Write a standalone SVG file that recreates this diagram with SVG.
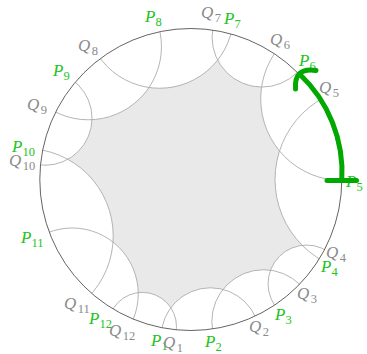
<svg xmlns="http://www.w3.org/2000/svg" width="367" height="354" viewBox="0 0 367 354">
<style>
.arc{fill:none;stroke:#ababab;stroke-width:0.9}
.hole{fill:#ffffff;stroke:none}
.lab{font-family:"Liberation Serif","DejaVu Serif",serif;font-size:17px;font-style:italic}
.sub{font-size:12.5px;font-style:normal}
.p{fill:#22c322}
.q{fill:#8a8a8a}
.grn{fill:none;stroke:#00a800;stroke-width:5;stroke-linecap:round}
</style>
<defs>
<clipPath id="disk"><circle cx="190.8" cy="179.5" r="151"/></clipPath>
</defs>
<rect width="367" height="354" fill="#ffffff"/>
<g id="region">
<circle cx="190.8" cy="179.5" r="151" fill="#e9e9e9"/>
<g clip-path="url(#disk)">
<circle class="hole" cx="210.44" cy="337.14" r="49.36"/>
<circle class="hole" cx="263.65" cy="321.56" r="51.84"/>
<circle class="hole" cx="306.7" cy="283.7" r="38.63"/>
<circle class="hole" cx="368.28" cy="179.5" r="93.25"/>
<circle class="hole" cx="342.37" cy="98.9" r="81.65"/>
<circle class="hole" cx="261.87" cy="37.26" r="49.8"/>
<circle class="hole" cx="159.58" cy="14.28" r="73.97"/>
<circle class="hole" cx="88.31" cy="46.64" r="73.16"/>
<circle class="hole" cx="45.0" cy="118.22" r="47.03"/>
<circle class="hole" cx="25.69" cy="236.03" r="87.53"/>
<circle class="hole" cx="72.28" cy="293.96" r="65.97"/>
<circle class="hole" cx="142.31" cy="326.53" r="34.17"/>
</g>
</g>
<g id="connectors" clip-path="url(#disk)">
<circle class="arc" cx="210.44" cy="337.14" r="49.36"/>
<circle class="arc" cx="263.65" cy="321.56" r="51.84"/>
<circle class="arc" cx="306.7" cy="283.7" r="38.63"/>
<circle class="arc" cx="368.28" cy="179.5" r="93.25"/>
<circle class="arc" cx="342.37" cy="98.9" r="81.65"/>
<circle class="arc" cx="261.87" cy="37.26" r="49.8"/>
<circle class="arc" cx="159.58" cy="14.28" r="73.97"/>
<circle class="arc" cx="88.31" cy="46.64" r="73.16"/>
<circle class="arc" cx="45.0" cy="118.22" r="47.03"/>
<circle class="arc" cx="25.69" cy="236.03" r="87.53"/>
<circle class="arc" cx="72.28" cy="293.96" r="65.97"/>
<circle class="arc" cx="142.31" cy="326.53" r="34.17"/>
</g>
<g id="boundary">
<circle cx="190.8" cy="179.5" r="151" fill="none" stroke="#222222" stroke-width="0.7"/>
</g>
<g id="labels" class="lab">
<g id="P1"><text class="p" x="151" y="346">P<tspan class="sub" dy="3.5">1</tspan></text></g>
<g id="Q1"><text class="q" x="163" y="348">Q<tspan class="sub" dx="1.5" dy="3.5">1</tspan></text></g>
<g id="P2"><text class="p" x="205" y="347">P<tspan class="sub" dy="3.5">2</tspan></text></g>
<g id="Q2"><text class="q" x="249" y="332">Q<tspan class="sub" dx="1.5" dy="3.5">2</tspan></text></g>
<g id="P3"><text class="p" x="275" y="320">P<tspan class="sub" dy="3.5">3</tspan></text></g>
<g id="Q3"><text class="q" x="297" y="299">Q<tspan class="sub" dx="1.5" dy="3.5">3</tspan></text></g>
<g id="P4"><text class="p" x="321" y="272">P<tspan class="sub" dy="3.5">4</tspan></text></g>
<g id="Q4"><text class="q" x="326" y="258">Q<tspan class="sub" dx="1.5" dy="3.5">4</tspan></text></g>
<g id="P5"><text class="p" x="346" y="187">P<tspan class="sub" dy="3.5">5</tspan></text></g>
<g id="Q5"><text class="q" x="319" y="93">Q<tspan class="sub" dx="1.5" dy="3.5">5</tspan></text></g>
<g id="P6"><text class="p" x="299" y="66">P<tspan class="sub" dy="3.5">6</tspan></text></g>
<g id="Q6"><text class="q" x="270" y="45">Q<tspan class="sub" dx="1.5" dy="3.5">6</tspan></text></g>
<g id="P7"><text class="p" x="224" y="24">P<tspan class="sub" dy="3.5">7</tspan></text></g>
<g id="Q7"><text class="q" x="201" y="18">Q<tspan class="sub" dx="1.5" dy="3.5">7</tspan></text></g>
<g id="P8"><text class="p" x="145" y="22">P<tspan class="sub" dy="3.5">8</tspan></text></g>
<g id="Q8"><text class="q" x="78" y="51">Q<tspan class="sub" dx="1.5" dy="3.5">8</tspan></text></g>
<g id="P9"><text class="p" x="53" y="76">P<tspan class="sub" dy="3.5">9</tspan></text></g>
<g id="Q9"><text class="q" x="27" y="110">Q<tspan class="sub" dx="1.5" dy="3.5">9</tspan></text></g>
<g id="P10"><text class="p" x="12" y="152">P<tspan class="sub" dy="3.5">10</tspan></text></g>
<g id="Q10"><text class="q" x="9" y="166">Q<tspan class="sub" dx="1.5" dy="3.5">10</tspan></text></g>
<g id="P11"><text class="p" x="21" y="243">P<tspan class="sub" dy="3.5">11</tspan></text></g>
<g id="Q11"><text class="q" x="64" y="309">Q<tspan class="sub" dx="1.5" dy="3.5">11</tspan></text></g>
<g id="P12"><text class="p" x="89" y="324">P<tspan class="sub" dy="3.5">12</tspan></text></g>
<g id="Q12"><text class="q" x="109" y="336">Q<tspan class="sub" dx="1.5" dy="3.5">12</tspan></text></g>
</g>
<g id="arrow">
<path class="grn" d="M 341.8 180.6 A 135 135 0 0 0 299.5 74"/>
<path class="grn" d="M 327 180.6 H 356.5" stroke-linecap="butt"/>
<path class="grn" d="M 295.5 89 Q 294 67 316 70.5"/>
</g>
</svg>
